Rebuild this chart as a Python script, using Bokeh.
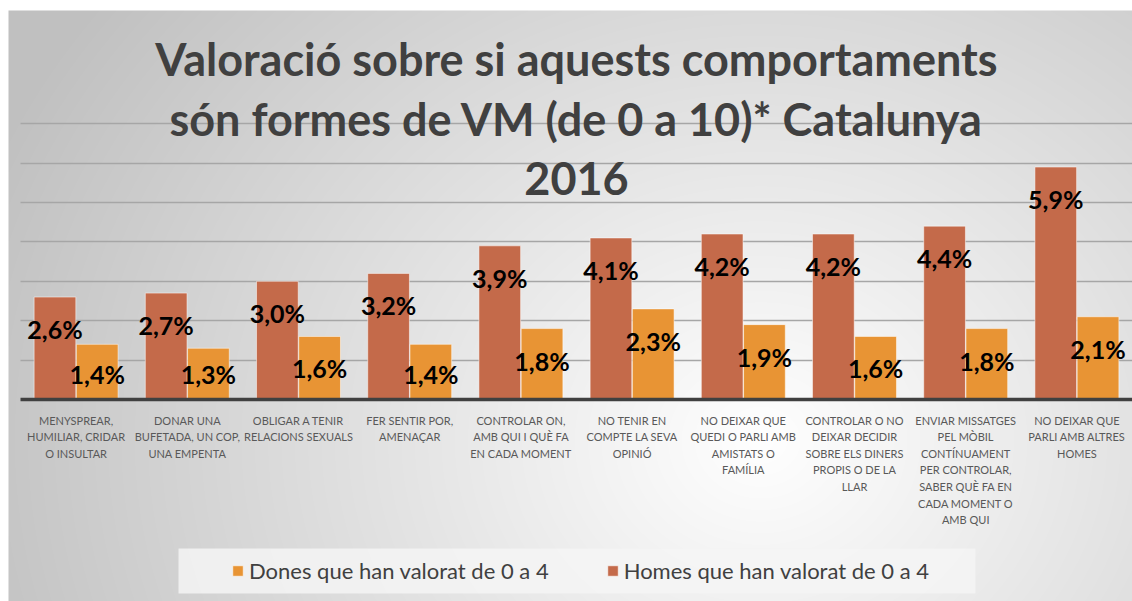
import numpy as np
from bokeh.plotting import figure
from bokeh.models import (Range1d, LinearAxis, FixedTicker, Grid, ColumnDataSource,
                          Label, Legend, LegendItem, BoxAnnotation)
from bokeh.core.properties import value
from bokeh.transform import dodge
from bokeh.embed import file_html
from bokeh.resources import INLINE

# ---------------- data ----------------
categories = [
    "MENYSPREAR,\nHUMILIAR, CRIDAR\nO INSULTAR",
    "DONAR UNA\nBUFETADA, UN COP,\nUNA EMPENTA",
    "OBLIGAR A TENIR\nRELACIONS SEXUALS",
    "FER SENTIR POR,\nAMENAÇAR",
    "CONTROLAR ON,\nAMB QUI I QUÈ FA\nEN CADA MOMENT",
    "NO TENIR EN\nCOMPTE LA SEVA\nOPINIÓ",
    "NO DEIXAR QUE\nQUEDI O PARLI AMB\nAMISTATS O\nFAMÍLIA",
    "CONTROLAR O NO\nDEIXAR DECIDIR\nSOBRE ELS DINERS\nPROPIS O DE LA\nLLAR",
    "ENVIAR MISSATGES\nPEL MÒBIL\nCONTÍNUAMENT\nPER CONTROLAR,\nSABER QUÈ FA EN\nCADA MOMENT O\nAMB QUI",
    "NO DEIXAR QUE\nPARLI AMB ALTRES\nHOMES",
]
homes = [2.6, 2.7, 3.0, 3.2, 3.9, 4.1, 4.2, 4.2, 4.4, 5.9]
dones = [1.4, 1.3, 1.6, 1.4, 1.8, 2.3, 1.9, 1.6, 1.8, 2.1]
series_names = ["Dones que han valorat de 0 a 4", "Homes que han valorat de 0 a 4"]
title_lines = ["Valoració sobre si aquests comportaments",
               "són formes de VM (de 0 a 10)* Catalunya",
               "2016"]
grid_ticks = [1, 2, 3, 4, 5, 6, 7]

# ---------------- styles / layout ----------------
HOME_C = "#C46A4A"
DONE_C = "#E89434"
W, H = 1132, 601
PX_X, PX_Y = 111.2, 39.4          # pixels per data unit
X0 = -20 / PX_X
X1 = X0 + W / PX_X
Y1 = 399 / PX_Y
Y0 = Y1 - H / PX_Y

def fmt(v):
    return f"{v:.1f}".replace(".", ",") + "%"

xs = [i + 0.5 for i in range(len(categories))]
LAB_OFF = 32 / PX_Y
LAB_MIN = 26 / PX_Y
src = ColumnDataSource(dict(
    x=xs, homes=homes, dones=dones,
    homes_lab=[fmt(v) for v in homes], dones_lab=[fmt(v) for v in dones],
    homes_y=[max(v - LAB_OFF, LAB_MIN) for v in homes],
    dones_y=[max(v - LAB_OFF, LAB_MIN) for v in dones],
))

p = figure(width=W, height=H, x_range=Range1d(X0, X1), y_range=Range1d(Y0, Y1),
           x_axis_type=None, y_axis_type=None, toolbar_location=None,
           output_backend="svg", min_border=0, outline_line_color=None,
           background_fill_color="white", border_fill_color="white")

# radial gradient background (chart area from page x=8, y=10)
BX, BY = 8, 10
BW_, BH_ = W - BX, H - BY
yy, xx = np.mgrid[0:BH_, 0:BW_]
px = xx + BX
py = yy + BY
d = np.sqrt((px - 760.0) ** 2 + ((py - 440.0) * 1.15) ** 2)
c = np.clip(255 - 0.075 * d, 192, 255).astype(np.uint8)
rgba = np.zeros((BH_, BW_, 4), dtype=np.uint8)
rgba[..., 0] = c
rgba[..., 1] = c
rgba[..., 2] = c
rgba[..., 3] = 255
img = rgba[::-1].copy().view(dtype=np.uint32).reshape((BH_, BW_))
p.image_rgba(image=[img], x=(BX - 20) / PX_X, y=Y0, dw=BW_ / PX_X, dh=BH_ / PX_Y,
             level="image")

grid = Grid(dimension=1, ticker=FixedTicker(ticks=grid_ticks),
            grid_line_color="#A6A6A6", grid_line_width=1.5)
if "cross_bounds" in Grid.properties():
    grid.cross_bounds = (0, X1)
p.add_layout(grid)

BW = 0.375
r_h = p.vbar(x=dodge("x", -0.19), top="homes", width=BW, source=src,
             fill_color=HOME_C, line_color="white", line_alpha=0.5, line_width=1)
r_d = p.vbar(x=dodge("x", 0.19), top="dones", width=BW, source=src,
             fill_color=DONE_C, line_color="white", line_alpha=0.5, line_width=1)

for col, ycol, off in (("homes_lab", "homes_y", -0.19), ("dones_lab", "dones_y", 0.19)):
    p.text(x=dodge("x", off), y=ycol, text=col, source=src,
           text_font=value("Lato"), text_font_style="bold", text_font_size="25px",
           text_color="black", text_align="center", text_baseline="middle")

ax = LinearAxis(ticker=FixedTicker(ticks=xs),
                major_label_overrides={x: lab for x, lab in zip(xs, categories)},
                fixed_location=0, bounds=(0, X1),
                axis_line_color="#404040", axis_line_width=3.5,
                major_tick_line_color=None, minor_tick_line_color=None,
                major_label_text_font="Lato", major_label_text_font_size="11px",
                major_label_text_color="#595959", major_label_text_line_height=1.28,
                major_label_standoff=8)
p.add_layout(ax, "below")

# title
for t, base in zip(title_lines, [58, 118, 178]):
    p.add_layout(Label(x=(576 - 20) / PX_X, y=(399 - base) / PX_Y, text=t,
                       text_align="center", text_baseline="alphabetic",
                       text_font="Lato", text_font_style="bold", text_font_size="45px",
                       text_color="#404040"))

# legend background
p.add_layout(BoxAnnotation(left=(178 - 20) / PX_X, right=(975 - 20) / PX_X,
                           top=(399 - 548) / PX_Y, bottom=(399 - 593) / PX_Y,
                           fill_color="#F4F4F4", fill_alpha=0.85, line_color=None))

legend = Legend(items=[LegendItem(label=series_names[0], renderers=[r_d]),
                       LegendItem(label=series_names[1], renderers=[r_h])],
                location=(231, 17), orientation="horizontal",
                background_fill_alpha=0, border_line_color=None,
                padding=0, margin=0, spacing=57, glyph_width=13, glyph_height=13,
                label_standoff=5, label_text_font="Lato", label_text_font_size="22px",
                label_text_color="#404040", label_height=26)
p.add_layout(legend)

open("out.html", "w").write(file_html(p, INLINE))
